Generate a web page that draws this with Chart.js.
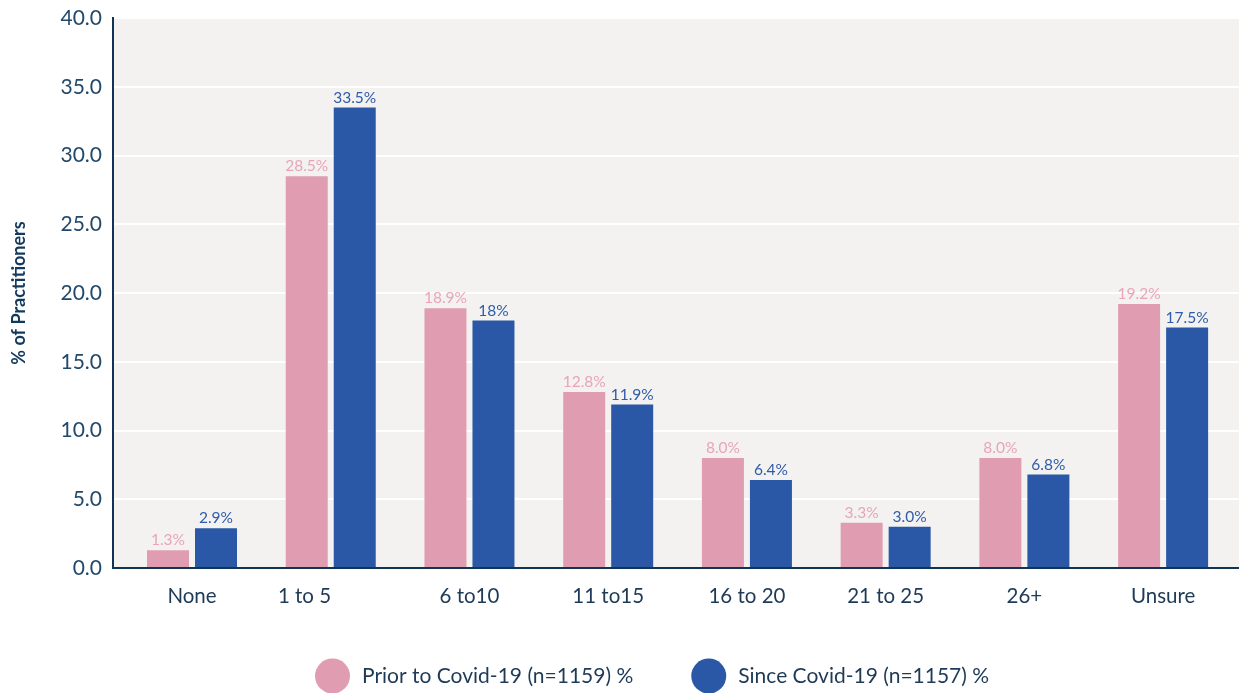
<!DOCTYPE html>
<html>
<head>
<meta charset="utf-8">
<script src="https://cdn.jsdelivr.net/npm/chart.js@4.4.1/dist/chart.umd.min.js"></script>
<style>
  html, body { margin: 0; padding: 0; background: #ffffff; }
  #chart { display: block; }
</style>
</head>
<body>
<canvas id="chart" width="1239" height="693"></canvas>
<script>
// Years of practice bands (the "1 to 5" label carries trailing spaces in the source sheet)
const categories = ['None', '1 to 5          ', '6 to10', '11 to15', '16 to 20', '21 to 25', '26+', 'Unsure'];
// Values as written in the data labels
const priorValues = ['1.3', '28.5', '18.9', '12.8', '8.0', '3.3', '8.0', '19.2'];
const sinceValues = ['2.9', '33.5', '18', '11.9', '6.4', '3.0', '6.8', '17.5'];
const seriesNames = ['Prior to Covid-19 (n=1159) %', 'Since Covid-19 (n=1157) %'];
const yTickValues = [0, 5, 10, 15, 20, 25, 30, 35, 40];
const yTitle = '% of Practitioners';

const PINK = '#e09db1';
const BLUE = '#2a58a6';
const PINK_TEXT = '#e8a5b8';
const BLUE_TEXT = '#2f5caa';
const NAVY = '#0f3457';
const TICK_COLOR = '#23496a';
const FONT = 'Lato, "Open Sans", sans-serif';

const toPoints = vals => vals.map((v, i) => ({ x: i, y: Number(v) }));

// Light panel behind the plot area
const panelBackground = {
  id: 'panelBackground',
  beforeDraw(chart) {
    const { ctx, chartArea: a } = chart;
    ctx.save();
    ctx.fillStyle = '#f3f2f0';
    ctx.fillRect(a.left, a.top, a.right - a.left, a.bottom - a.top);
    ctx.restore();
  }
};

// Value labels above each bar
const valueLabels = {
  id: 'valueLabels',
  afterDatasetsDraw(chart) {
    const { ctx } = chart;
    const sources = [priorValues, sinceValues];
    const colors = [PINK_TEXT, BLUE_TEXT];
    ctx.save();
    ctx.font = '15.5px ' + FONT;
    ctx.textAlign = 'center';
    ctx.textBaseline = 'bottom';
    chart.data.datasets.forEach((ds, di) => {
      const meta = chart.getDatasetMeta(di);
      ctx.fillStyle = colors[di];
      meta.data.forEach((bar, i) => {
        ctx.fillText(sources[di][i] + '%', bar.x, bar.y - 2);
      });
    });
    ctx.restore();
  }
};

// Legend with large round swatches under the axis
const roundLegend = {
  id: 'roundLegend',
  afterDraw(chart) {
    const { ctx } = chart;
    const y = 676;
    const r = 17.5;
    const gap = 12;
    const itemGap = 58;
    let x = 315;
    ctx.save();
    ctx.font = '21px ' + FONT;
    ctx.textBaseline = 'middle';
    ctx.textAlign = 'left';
    chart.data.datasets.forEach(ds => {
      ctx.fillStyle = ds.backgroundColor;
      ctx.beginPath();
      ctx.arc(x + r, y, r, 0, Math.PI * 2);
      ctx.fill();
      const tx = x + 2 * r + gap;
      ctx.fillStyle = '#1e3a56';
      ctx.fillText(ds.label, tx, y);
      x = tx + ctx.measureText(ds.label).width + itemGap;
    });
    ctx.restore();
  }
};

new Chart(document.getElementById('chart'), {
  type: 'bar',
  data: {
    datasets: [
      { label: seriesNames[0], data: toPoints(priorValues), backgroundColor: PINK },
      { label: seriesNames[1], data: toPoints(sinceValues), backgroundColor: BLUE }
    ]
  },
  options: {
    responsive: false,
    animation: false,
    devicePixelRatio: 1,
    categoryPercentage: 0.692,
    barPercentage: 0.875,
    layout: { padding: { top: 18, right: 0, bottom: 60, left: 0 } },
    plugins: {
      legend: { display: false },
      tooltip: { enabled: false }
    },
    scales: {
      x: {
        type: 'linear',
        offset: false,
        min: -0.5695,
        max: 7.547,
        grid: { display: false, drawTicks: false, offset: false },
        border: { display: true, color: NAVY, width: 2 },
        afterBuildTicks: axis => { axis.ticks = categories.map((_, i) => ({ value: i })); },
        afterFit: axis => {
          axis.height = 65;
          axis.paddingLeft = 0;
          axis.paddingRight = 0;
        },
        ticks: {
          autoSkip: false,
          maxRotation: 0,
          padding: 16,
          color: '#1e3a56',
          font: { family: FONT, size: 20.5 },
          callback: v => categories[v]
        }
      },
      y: {
        min: 0,
        max: 40,
        afterBuildTicks: axis => { axis.ticks = yTickValues.map(v => ({ value: v })); },
        afterFit: axis => {
          axis.width = 113;
          axis.paddingTop = 0;
          axis.paddingBottom = 0;
        },
        grid: { color: '#ffffff', lineWidth: 2, drawTicks: false },
        border: { display: true, color: NAVY, width: 2 },
        ticks: {
          padding: 11,
          color: TICK_COLOR,
          font: { family: FONT, size: 21 },
          callback: v => Number(v).toFixed(1)
        },
        title: {
          display: true,
          text: yTitle,
          color: '#13395c',
          font: { family: FONT, size: 18, weight: 'bold' },
          padding: { top: 8, bottom: 0 }
        }
      }
    }
  },
  plugins: [panelBackground, valueLabels, roundLegend]
});
</script>
</body>
</html>
